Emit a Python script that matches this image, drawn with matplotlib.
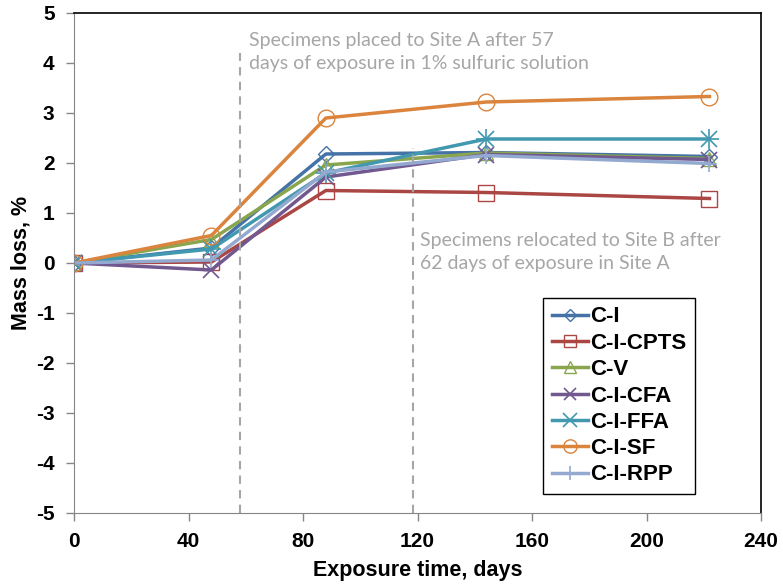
import matplotlib as mpl
mpl.use('Agg')
import matplotlib.pyplot as plt

days = [0, 48, 88, 144, 222]
names = ['C-I', 'C-I-CPTS', 'C-V', 'C-I-CFA', 'C-I-FFA', 'C-I-SF', 'C-I-RPP']
c_i = [0, 0.30, 2.18, 2.21, 2.13]
c_i_cpts = [0, 0.02, 1.45, 1.41, 1.29]
c_v = [0, 0.47, 1.96, 2.20, 2.09]
c_i_cfa = [0, -0.14, 1.72, 2.17, 2.07]
c_i_ffa = [0, 0.28, 1.80, 2.48, 2.48]
c_i_sf = [0, 0.55, 2.90, 3.22, 3.33]
c_i_rpp = [0, 0.06, 1.82, 2.15, 1.99]
series = [c_i, c_i_cpts, c_v, c_i_cfa, c_i_ffa, c_i_sf, c_i_rpp]

colors = ['#4572A7', '#AA4643', '#89A54E', '#71588F', '#4198AF', '#DB843D', '#93A9CF']
markers = ['D', 's', '^', 'x', '*', 'o', '+']
msizes = [8, 11, 10, 11, 12, 12, 12]

plt.rcParams['font.family'] = ['Liberation Sans', 'DejaVu Sans']
plt.rcParams['axes.unicode_minus'] = False

fig = plt.figure(figsize=(7.83, 5.88), dpi=100)
ax = fig.add_axes([74/783, 75/588, 687/783, 500/588])

for name, vals, c, m, ms in zip(names, series, colors, markers, msizes):
    if m in ('x', '+'):
        ax.plot(days, vals, color=c, lw=2.5, marker=m, ms=ms, mew=1.2, label=name)
    elif m == '*':
        ax.plot(days, vals, color=c, lw=2.5, marker='x', ms=ms, mew=1.2, label=name)
        ax.plot(days, vals, color=c, lw=0, marker='+', ms=ms + 3, mew=1.2)
    else:
        ax.plot(days, vals, color=c, lw=2.5, marker=m, ms=ms, mfc='none', mew=1.0, label=name)

ax.plot([58, 58], [-5, 4.2], color='#A6A6A6', lw=1.5, ls=(0, (4, 3)))
ax.plot([118.5, 118.5], [-5, 2.3], color='#A6A6A6', lw=1.5, ls=(0, (4, 3)))
ax.text(61, 4.62, 'Specimens placed to Site A after 57\ndays of exposure in 1% sulfuric solution',
        color='#A6A6A6', fontsize=14, family='Lato', va='top', linespacing=1.45)
ax.text(121, 0.62, 'Specimens relocated to Site B after\n62 days of exposure in Site A',
        color='#A6A6A6', fontsize=14, family='Lato', va='top', linespacing=1.45)

ax.set_xlim(0, 240)
ax.set_ylim(-5, 5)
ax.set_xticks(range(0, 241, 40))
ax.set_yticks(range(-5, 6))
for lab in ax.get_xticklabels() + ax.get_yticklabels():
    lab.set_fontweight('bold')
    lab.set_fontsize(15)
ax.set_xlabel('Exposure time, days', fontsize=15.5, fontweight='bold', labelpad=6)
ax.set_ylabel('Mass loss, %', fontsize=15.5, fontweight='bold', labelpad=3)
ax.tick_params(direction='out', length=6, color='#868686', width=1, pad=8)
for s in ['left', 'bottom']:
    ax.spines[s].set_color('#868686')
for s in ['top', 'right']:
    ax.spines[s].set_color('black')
    ax.spines[s].set_linewidth(1.2)

leg = ax.legend(loc='lower right', bbox_to_anchor=(0.92, 0.015), prop={'weight': 'bold', 'size': 16},
                fancybox=False, edgecolor='black', framealpha=1, handlelength=1.6,
                handletextpad=0.1, labelspacing=0.24, borderpad=0.4, markerscale=0.8)
leg.get_frame().set_linewidth(1.0)

fig.savefig('out.png', dpi=100)
